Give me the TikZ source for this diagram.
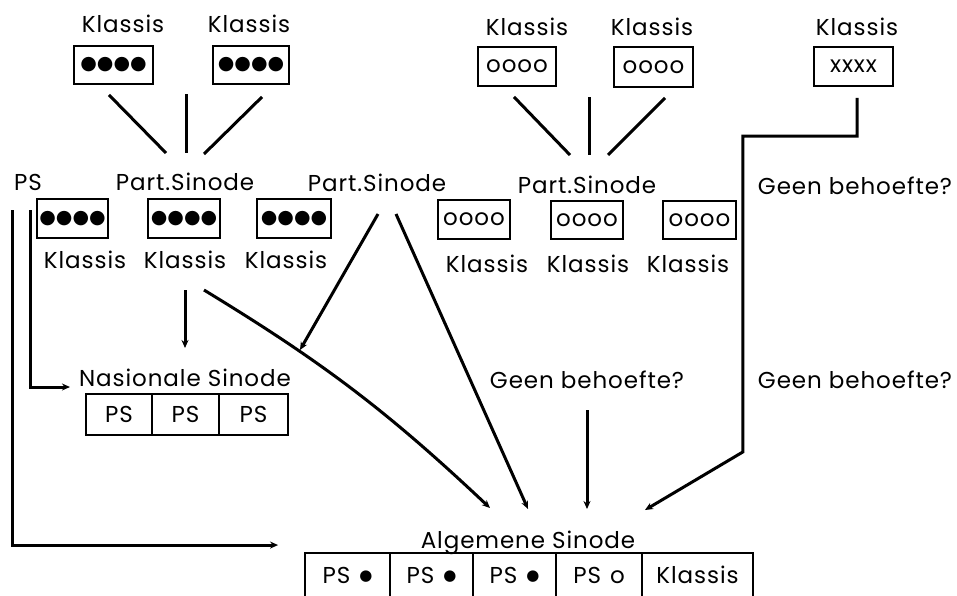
\documentclass[tikz,border=0pt]{standalone}
\usepackage{fontspec}
\setmainfont{Poppins}[LetterSpace=4]
\newfontfamily\dejavu{DejaVu Sans}
\usetikzlibrary{calc,arrows.meta}
\newcommand\smdot{\raisebox{2.5pt}{\dejavu\fontsize{15}{15}\selectfont ●}}
\begin{document}
\begin{tikzpicture}[x=1pt,y=-1pt,
  lbl/.style={font=\fontsize{23}{26}\selectfont, inner sep=0pt, anchor=base},
  kbox/.style={draw, line width=1.9pt, inner sep=0pt, minimum height=38pt, font=\fontsize{23}{26}\selectfont},
  dotsf/.style={font=\dejavu\fontsize{19}{20}\selectfont},
  conn/.style={line width=3pt},
  arr/.style={conn, -{Stealth[length=8pt,width=7pt]}}
]
\useasboundingbox (0,0) rectangle (957,595);
% top klassis boxes
\node[kbox, dotsf, minimum width=79pt] (t1) at (113.5,65) {●●●●};
\node[kbox, dotsf, minimum width=76pt] (t2) at (251,65) {●●●●};
\node[kbox, minimum width=78pt, minimum height=39pt] (t3) at (517,66.5) {oooo};
\node[kbox, minimum width=79pt, minimum height=40pt] (t4) at (653.5,67) {oooo};
\node[kbox, minimum width=79pt, minimum height=39pt] (t5) at (853.5,66.5) {xxxx};
\node[lbl] (tl1) at (123,32) {Klassis};
\node[lbl] (tl2) at (249,32) {Klassis};
\node[lbl] (tl3) at (527,35) {Klassis};
\node[lbl] (tl4) at (652,35) {Klassis};
\node[lbl] (tl5) at (857,35) {Klassis};
% second row labels
\node[lbl] (ps) at (28,190) {PS};
\node[lbl] (p1) at (185,190) {Part.Sinode};
\node[lbl] (p2) at (377,191) {Part.Sinode};
\node[lbl] (p3) at (587,193) {Part.Sinode};
\node[lbl] (g1) at (855,194) {Geen behoefte?};
% middle boxes
\node[kbox, dotsf, minimum width=71pt, minimum height=39pt] (m1) at (72.5,218.5) {●●●●};
\node[kbox, dotsf, minimum width=72pt, minimum height=39pt] (m2) at (184,218.5) {●●●●};
\node[kbox, dotsf, minimum width=74pt, minimum height=39pt] (m3) at (294,218.5) {●●●●};
\node[kbox, minimum width=72pt, minimum height=39pt] (m4) at (474,219.5) {oooo};
\node[kbox, minimum width=72pt, minimum height=38pt] (m5) at (587,220) {oooo};
\node[kbox, minimum width=73pt, minimum height=38pt] (m6) at (699.5,220) {oooo};
\node[lbl] (l1) at (85,268) {Klassis};
\node[lbl] (l2) at (185,268) {Klassis};
\node[lbl] (l3) at (286,268) {Klassis};
\node[lbl] (l4) at (487,272) {Klassis};
\node[lbl] (l5) at (588,272) {Klassis};
\node[lbl] (l6) at (688,272) {Klassis};
% nasionale sinode
\node[lbl] (nas) at (185,386) {Nasionale Sinode};
\node[kbox, minimum width=66pt, minimum height=41pt] (n1) at (119,414.5) {PS};
\node[kbox, minimum width=67pt, minimum height=41pt] (n2) at (185.5,414.5) {PS};
\node[kbox, minimum width=69pt, minimum height=41pt] (n3) at (253.5,414.5) {PS};
\node[lbl] (g2) at (587,388) {Geen behoefte?};
\node[lbl] (g3) at (855,388) {Geen behoefte?};
% algemene sinode
\node[lbl] (alg) at (528,548) {Algemene Sinode};
\node[kbox, minimum width=85pt, minimum height=44pt] (a1) at (347.5,575) {PS\hspace{9pt}\smdot};
\node[kbox, minimum width=83pt, minimum height=44pt] (a2) at (431.5,575) {PS\hspace{9pt}\smdot};
\node[kbox, minimum width=83pt, minimum height=44pt] (a3) at (514.5,575) {PS\hspace{9pt}\smdot};
\node[kbox, minimum width=86pt, minimum height=44pt] (a4) at (599,575) {PS\hspace{9pt}o};
\node[kbox, minimum width=111pt, minimum height=44pt] (a5) at (697.5,575) {Klassis};
% connectors top left
\draw[conn] ($(t1.south)+(-4.5,10)$) -- ($(p1.base)+(-19,-37)$);
\draw[conn] ($(p1.base)+(1,-96)$) -- ($(p1.base)+(1,-37)$);
\draw[conn] ($(t2.south)+(11,12)$) -- ($(p1.base)+(19,-36)$);
% connectors top right
\draw[conn] ($(t3.south)+(-3,10)$) -- ($(p3.base)+(-17,-38)$);
\draw[conn] ($(p3.base)+(2,-96)$) -- ($(p3.base)+(2,-38)$);
\draw[conn] ($(t4.south)+(11.5,10)$) -- ($(p3.base)+(21,-38)$);
% xxxx route
\draw[arr] ($(t5.south)+(3.5,11)$) |- ($(g1.base west)+(-15,-58)$) -- ($(g3.base west)+(-15,64)$) -- ($(alg.base)+(117,-38)$);
% PS routes
\draw[arr] ($(ps.base)+(2,20)$) |- ($(nas.base west)+(-9,1)$);
\draw[arr] ($(ps.base)+(-16,20)$) |- ($(a1.north west)+(-26,-7)$);
% middle
\draw[arr] ($(l2.base)+(0,22)$) -- ($(nas.base)+(0,-38)$);
\draw[arr] ($(l2.base)+(19,22)$) to[bend left=6] ($(alg.base)+(-38,-40)$);
\draw[arr] ($(p2.base)+(1,23)$) -- ($(nas.base)+(115,-36)$);
\draw[arr] ($(p2.base)+(19,23)$) -- ($(alg.base)+(0,-39)$);
\draw[arr] ($(g2.base)+(0,22)$) -- ($(alg.base)+(59,-39)$);
\end{tikzpicture}
\end{document}
